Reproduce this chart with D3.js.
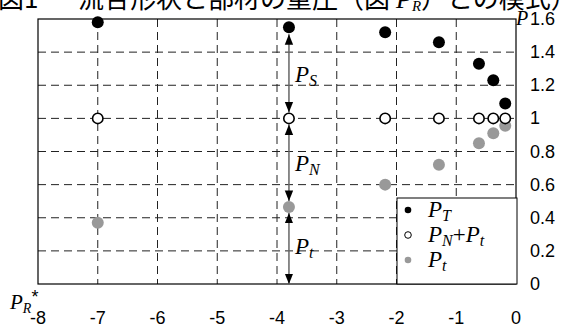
<!DOCTYPE html>
<html lang="ja">
<head>
<meta charset="UTF-8">
<script src="https://d3js.org/d3.v7.min.js"></script>
<style>
  body { margin: 0; background: #fff; }
  svg text { font-family: "Liberation Sans", Arial, sans-serif; }
  svg text.it { font-family: "Liberation Serif", "Times New Roman", serif; font-style: italic; }
</style>
</head>
<body>
<svg id="chart" width="571" height="333"></svg>
<script>
// data
const xs = [-7.0, -3.8, -2.19, -1.29, -0.62, -0.38, -0.18];
const pT = [1.58, 1.55, 1.52, 1.46, 1.33, 1.23, 1.09];
const pNt = [1.0, 1.0, 1.0, 1.0, 1.0, 1.0, 1.0];
const pt = [0.37, 0.465, 0.60, 0.72, 0.85, 0.91, 0.955];
const xTicks = [-8, -7, -6, -5, -4, -3, -2, -1, 0];
const yTicks = [0, 0.2, 0.4, 0.6, 0.8, 1, 1.2, 1.4, 1.6];

const svg = d3.select('#chart');
const mLeft = 38, mRight = 516, mTop = 19, mBottom = 284;

const x = d3.scaleLinear().domain([-8, 0]).range([mLeft, mRight]);
const y = d3.scaleLinear().domain([0, 1.6]).range([mBottom, mTop]);

// title (cut off at top of the picture)
const title = svg.append('text')
    .attr('y', 8)
    .style('font-family', '"Noto Sans CJK JP", sans-serif')
    .attr('font-size', 26);
title.append('tspan').attr('x', -2).text('図1');
title.append('tspan').attr('x', 78).text('流合形状と部材の重圧（図ー');
title.append('tspan').attr('x', 396).style('font-family', '"Liberation Serif", serif').style('font-style', 'italic').text('P');
title.append('tspan').attr('font-size', 15).attr('dy', 3).style('font-family', '"Liberation Serif", serif').style('font-style', 'italic').text('R');
title.append('tspan').attr('dy', -3).text('）との模式）');

// grid
const grid = svg.append('g')
    .attr('stroke', '#222').attr('stroke-width', 1).attr('stroke-dasharray', '8,5');
grid.selectAll('.vg').data(xTicks.slice(1, -1)).enter().append('line')
    .attr('x1', d => x(d)).attr('x2', d => x(d))
    .attr('y1', mTop).attr('y2', mBottom);
grid.selectAll('.hg').data(yTicks.slice(1, -1)).enter().append('line')
    .attr('x1', mLeft).attr('x2', mRight)
    .attr('y1', d => y(d)).attr('y2', d => y(d));

// frame
svg.append('rect')
    .attr('x', mLeft).attr('y', mTop)
    .attr('width', mRight - mLeft).attr('height', mBottom - mTop)
    .attr('fill', 'none').attr('stroke', '#000').attr('stroke-width', 1.2);

// tick labels
svg.selectAll('.xl').data(xTicks).enter().append('text')
    .attr('x', d => x(d)).attr('y', 324)
    .attr('text-anchor', 'middle').attr('font-size', 18)
    .text(d => d);
svg.selectAll('.yl').data(yTicks).enter().append('text')
    .attr('x', 530).attr('y', d => y(d) + 6)
    .attr('font-size', 18)
    .text(d => d);

// axis names
svg.append('text').attr('class', 'it').attr('x', 516).attr('y', 25).attr('font-size', 20).text('P');
const prLab = svg.append('text').attr('class', 'it').attr('x', 10).attr('y', 309).attr('font-size', 21);
prLab.append('tspan').text('P');
prLab.append('tspan').attr('font-size', 14).attr('dy', 4).text('R');
prLab.append('tspan').style('font-style', 'normal').style('font-family', '"Liberation Sans", sans-serif')
    .attr('font-size', 18).attr('dy', -10).text('*');

// arrows
const defs = svg.append('defs');
defs.append('marker').attr('id', 'ah')
    .attr('viewBox', '0 0 10 10').attr('refX', 10).attr('refY', 5)
    .attr('markerWidth', 7).attr('markerHeight', 7).attr('orient', 'auto-start-reverse')
    .append('path').attr('d', 'M0,1 L10,5 L0,9 Z').attr('fill', '#000');

const ax = xs[1];
const segs = [[pT[1], pNt[1]], [pNt[1], pt[1]], [pt[1], 0]];
svg.selectAll('.arr').data(segs).enter().append('line')
    .attr('x1', x(ax)).attr('x2', x(ax))
    .attr('y1', d => y(d[0]) + (d[0] === pT[1] ? 7 : 6))
    .attr('y2', d => y(d[1]) - (d[1] === 0 ? 0 : 6))
    .attr('stroke', '#666').attr('stroke-width', 1.5)
    .attr('marker-start', 'url(#ah)').attr('marker-end', 'url(#ah)');

const segLabels = [['S', 1.27], ['N', 0.73], ['t', 0.23]];
segLabels.forEach(s => {
    const t = svg.append('text').attr('class', 'it')
        .attr('x', x(ax) + 6).attr('y', y(s[1]) + 8).attr('font-size', 23);
    t.append('tspan').text('P');
    t.append('tspan').attr('font-size', 16).attr('dy', 4).text(s[0]);
});

// points
const rr = 6;
svg.selectAll('.pt').data(xs).enter().append('circle')
    .attr('cx', d => x(d)).attr('cy', (d, i) => y(pt[i])).attr('r', rr)
    .attr('fill', '#999');
svg.selectAll('.pnt').data(xs).enter().append('circle')
    .attr('cx', d => x(d)).attr('cy', (d, i) => y(pNt[i])).attr('r', rr - 0.8)
    .attr('fill', '#fff').attr('stroke', '#000').attr('stroke-width', 1.6);
svg.selectAll('.ptt').data(xs).enter().append('circle')
    .attr('cx', d => x(d)).attr('cy', (d, i) => y(pT[i])).attr('r', rr)
    .attr('fill', '#000');

// legend
const lg = svg.append('g');
lg.append('rect').attr('x', 397).attr('y', 198).attr('width', 120).attr('height', 86)
    .attr('fill', '#fff').attr('stroke', '#000').attr('stroke-width', 1);
const items = [
    { fill: '#000', stroke: 'none', lab: [['P', 0], ['T', 1]] },
    { fill: '#fff', stroke: '#000', lab: [['P', 0], ['N', 1], ['+', 2], ['P', 0], ['t', 1]] },
    { fill: '#999', stroke: 'none', lab: [['P', 0], ['t', 1]] }
];
items.forEach((it, i) => {
    const cy = 210 + i * 25;
    lg.append('circle').attr('cx', 408).attr('cy', cy).attr('r', 3.3)
        .attr('fill', it.fill).attr('stroke', it.stroke).attr('stroke-width', 1);
    const t = lg.append('text').attr('class', 'it').attr('x', 428).attr('y', cy + 7).attr('font-size', 23);
    let sub = false;
    it.lab.forEach(p => {
        const ts = t.append('tspan').text(p[0]);
        if (p[1] === 1) { ts.attr('font-size', 16).attr('dy', 4); sub = true; }
        else {
            if (sub) { ts.attr('dy', -4); sub = false; }
            if (p[1] === 2) ts.style('font-style', 'normal');
        }
    });
});
</script>
</body>
</html>
